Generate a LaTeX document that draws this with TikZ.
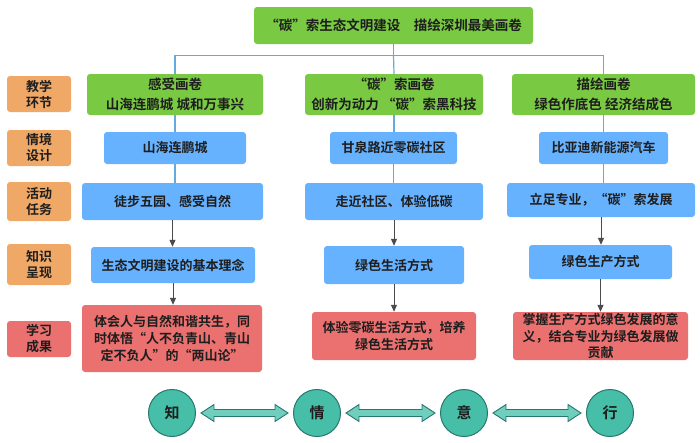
\documentclass[tikz,border=0pt]{standalone}
\usepackage{fontspec}
\setmainfont{Noto Sans CJK SC}[BoldFont={Noto Sans CJK SC Bold}]
\usetikzlibrary{arrows.meta,calc}
\definecolor{leaf}{RGB}{122,201,67}
\definecolor{sky}{RGB}{102,178,255}
\definecolor{amber}{RGB}{240,168,102}
\definecolor{coral}{RGB}{234,113,111}
\definecolor{teal}{RGB}{70,190,168}
\definecolor{tealdark}{RGB}{38,120,108}
\definecolor{tealsoft}{RGB}{112,206,190}
\definecolor{wire}{RGB}{100,170,222}
\definecolor{ink}{RGB}{30,30,30}
\tikzset{
  >={Triangle[length=7pt,width=6pt]},
  box/.style={fill=#1,rounded corners=3pt,align=center,text=ink,inner sep=0pt,
    font=\bfseries\fontsize{13}{16.5}\selectfont},
  box/.default=sky,
  head/.style={box=leaf,font=\bfseries\fontsize{13.5}{20}\selectfont},
  tag/.style={box=#1,minimum width=64pt,font=\bfseries\fontsize{13}{16}\selectfont},
  tag/.default=amber,
  tree/.style={draw=wire,line width=1.2pt},
  flow/.style={->,draw=ink!80,line width=1pt},
  station/.style={circle,draw=tealdark,fill=teal,line width=1pt,minimum size=47pt,
    text=ink,font=\bfseries\fontsize{15}{18}\selectfont},
  dbl/.style={draw=tealdark,fill=tealsoft,line width=0.9pt,line join=miter},
}
\begin{document}
\begin{tikzpicture}[x=1pt,y=-1pt]
  \useasboundingbox (0,0) rectangle (700,442);
  % title and the three stages
  \node[head,minimum width=279pt,minimum height=37pt] (top) at (393.5,25.5) {“碳”索生态文明建设\quad 描绘深圳最美画卷};
  \node[head,minimum width=176pt,minimum height=41pt] (g1) at (175,94.5) {感受画卷\\山海连鹏城 城和万事兴};
  \node[head,minimum width=178pt,minimum height=41pt] (g2) at (394,94.5) {“碳”索画卷\\创新为动力 “碳”索黑科技};
  \node[head,minimum width=183pt,minimum height=41pt] (g3) at (603.5,94.5) {描绘画卷\\绿色作底色 经济结成色};
  % row labels
  \node[tag,minimum height=36pt] (l1) at (39,94) {教学\\环节};
  \node[tag,minimum height=36pt] (l2) at (39,148) {情境\\设计};
  \node[tag,minimum height=39pt] (l3) at (39,201.5) {活动\\任务};
  \node[tag,minimum height=41pt] (l4) at (39,264.5) {知识\\呈现};
  \node[tag=coral,minimum height=36pt] (l5) at (39,339) {学习\\成果};
  % scenes
  \node[box,minimum width=142pt,minimum height=32pt] (b1) at (175,148) {山海连鹏城};
  \node[box,minimum width=127pt,minimum height=32pt] (b2) at (393.5,148) {甘泉路近零碳社区};
  \node[box,minimum width=129pt,minimum height=32pt] (b3) at (603.5,148) {比亚迪新能源汽车};
  % tasks
  \node[box,minimum width=181pt,minimum height=37pt] (c1) at (172.5,201.5) {徒步五园、感受自然};
  \node[box,minimum width=178pt,minimum height=37pt] (c2) at (394,201.5) {走近社区、体验低碳};
  \node[box,minimum width=188pt,minimum height=34pt] (c3) at (601,200) {立足专业，“碳”索发展};
  % knowledge
  \node[box,minimum width=164pt,minimum height=36pt] (d1) at (173,265) {生态文明建设的基本理念};
  \node[box,minimum width=140pt,minimum height=38pt] (d2) at (394,265) {绿色生活方式};
  \node[box,minimum width=143pt,minimum height=34pt] (d3) at (600.5,262) {绿色生产方式};
  % outcomes
  \node[box=coral,minimum width=180pt,minimum height=67pt] (r1) at (172,338.5) {体会人与自然和谐共生，同\\时体悟“人不负青山、青山\\定不负人”的“两山论”};
  \node[box=coral,minimum width=164pt,minimum height=48pt] (r2) at (394,336) {体验零碳生活方式，培养\\绿色生活方式};
  \node[box=coral,minimum width=175pt,minimum height=48pt] (r3) at (600.5,336) {掌握生产方式绿色发展的意\\义，结合专业为绿色发展做\\贡献};
  % connectors
  \draw[tree] (top.south) -- ++(0,11) coordinate (fork);
  \draw[tree] (fork) -| (g1.north);
  \draw[tree] (fork) -| (g3.north);
  \draw[tree] (fork) -- (g2.north);
  \foreach \n in {1,2,3}{
    \draw[tree] (g\n.south) -- (g\n.south |- b\n.north);
    \draw[tree] (b\n.south) -- (b\n.south |- c\n.north);
    \draw[flow] (c\n.south) -- (c\n.south |- d\n.north);
    \draw[flow] (d\n.south) -- (d\n.south |- r\n.north);
  }
  % zhi qing yi xing
  \node[station] (zhi) at (172,413) {知};
  \node[station] (qing) at (317,413) {情};
  \node[station] (yi) at (464,413) {意};
  \node[station] (xing) at (610,413) {行};
  \foreach \a/\b in {zhi/qing,qing/yi,yi/xing}
    \draw[dbl] ($(\a.east)+(5,0)$) -- ++(13,-8.5) -- ++(0,5) -- ($(\b.west)+(-18,-3.5)$)
      -- ++(0,-5) -- ($(\b.west)+(-5,0)$) -- ++(-13,8.5) -- ++(0,-5)
      -- ($(\a.east)+(18,3.5)$) -- ++(0,5) -- cycle;
\end{tikzpicture}
\end{document}
